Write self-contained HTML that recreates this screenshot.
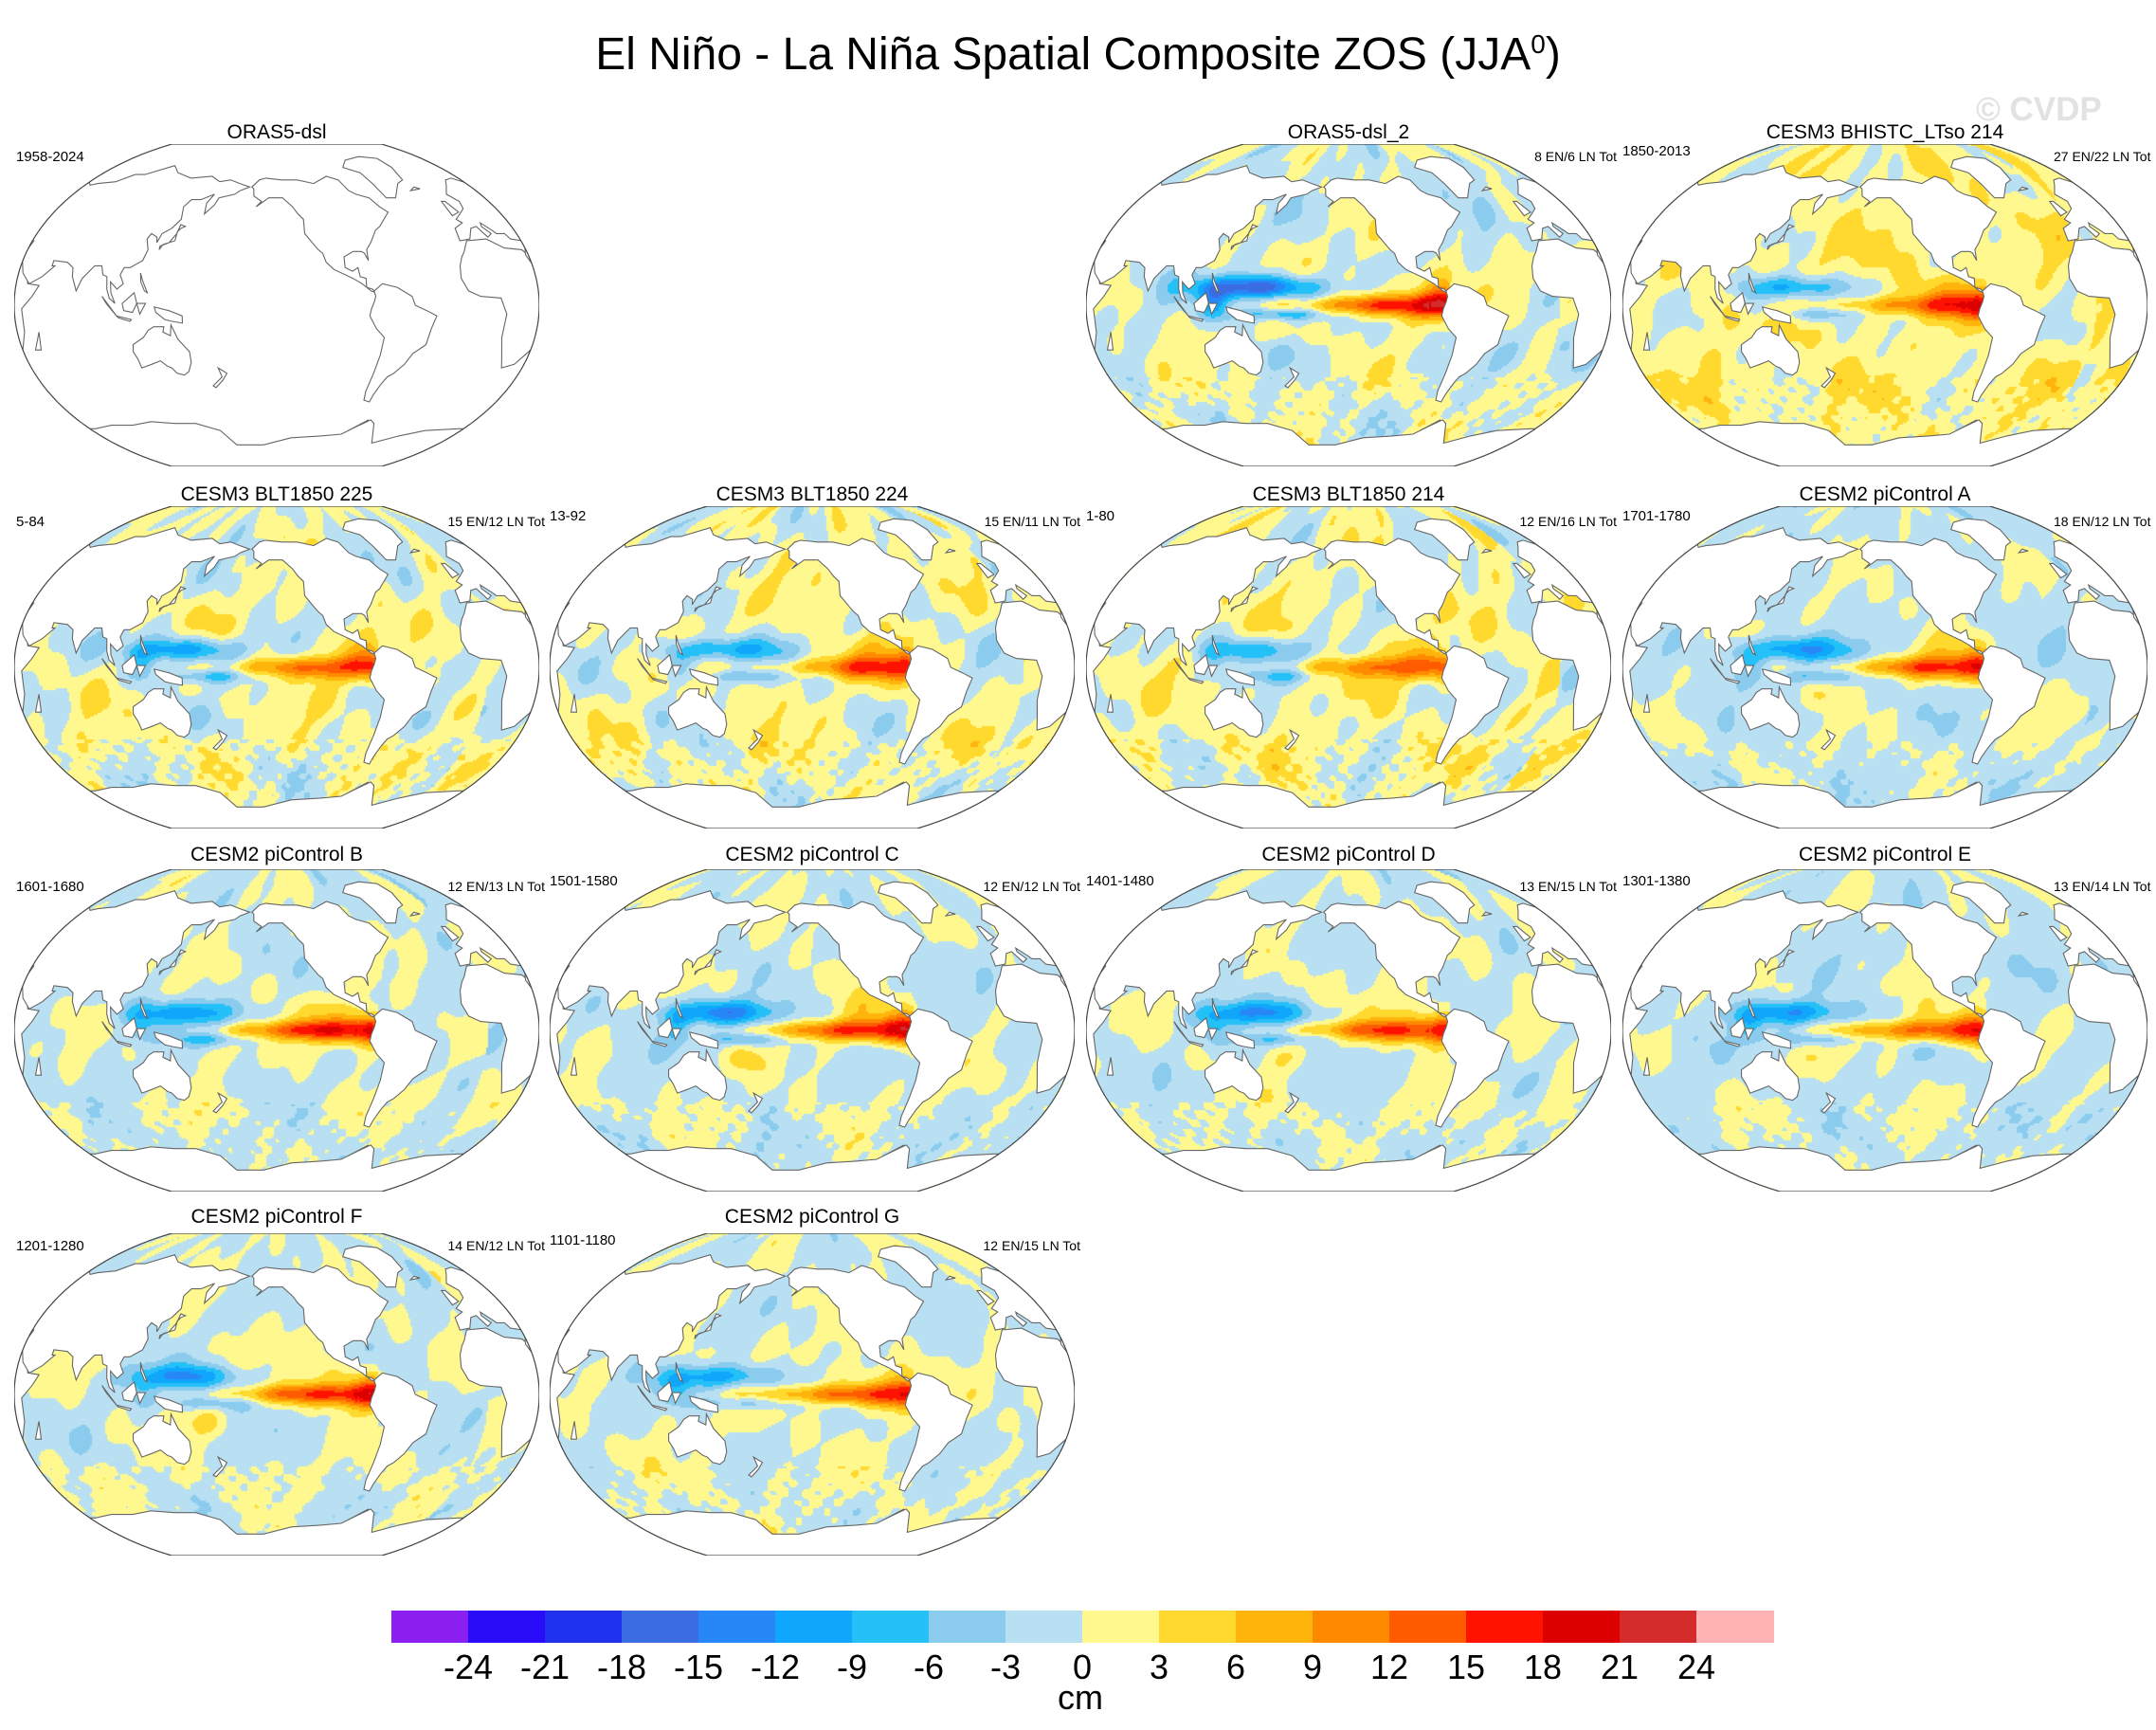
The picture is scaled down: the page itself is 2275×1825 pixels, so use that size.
<!DOCTYPE html>
<html><head><meta charset="utf-8">
<style>
body{margin:0;background:#fff;width:2275px;height:1825px;position:relative;overflow:hidden;font-family:"Liberation Sans",sans-serif;}
.t{position:absolute;white-space:nowrap;color:#000;}
.panel{position:absolute;width:554px;height:340px;}
.panel canvas,.panel svg{position:absolute;left:0;top:0;}
.ptitle{position:absolute;font-size:21px;transform:translateX(-50%);white-space:nowrap;}
.lbl{position:absolute;font-size:15px;white-space:nowrap;}
.rlbl{position:absolute;font-size:14px;white-space:nowrap;}
</style></head>
<body>
<div class="t" style="left:0;width:2275px;text-align:center;top:30px;font-size:48px;">El Niño - La Niña Spatial Composite ZOS (JJA<sup style="font-size:28px">0</sup>)</div>
<div class="t" style="left:2085px;top:96px;font-size:35px;font-weight:bold;color:#e2e2e2;">© CVDP</div>
<div id="panels"></div>
<div id="cbar" style="position:absolute;left:413px;top:1699px;width:1458px;height:34px;"></div>
<div id="cbticks"></div>
<div class="t" style="left:1090px;width:100px;text-align:center;top:1770px;font-size:36px;">cm</div>
<script>
// ---- data ----
const panelTitles=["ORAS5-dsl","","ORAS5-dsl_2","CESM3 BHISTC_LTso 214","CESM3 BLT1850 225","CESM3 BLT1850 224","CESM3 BLT1850 214","CESM2 piControl A","CESM2 piControl B","CESM2 piControl C","CESM2 piControl D","CESM2 piControl E","CESM2 piControl F","CESM2 piControl G"];
const yearLabels=["1958-2024","","1850-2013","1850-2013","5-84","13-92","1-80","1701-1780","1601-1680","1501-1580","1401-1480","1301-1380","1201-1280","1101-1180"];
const enlnLabels=["","","8 EN/6 LN Tot","27 EN/22 LN Tot","15 EN/12 LN Tot","15 EN/11 LN Tot","12 EN/16 LN Tot","18 EN/12 LN Tot","12 EN/13 LN Tot","12 EN/12 LN Tot","13 EN/15 LN Tot","13 EN/14 LN Tot","14 EN/12 LN Tot","12 EN/15 LN Tot"];
// anomaly amplitudes (cm)
const ninoAmp=[0,0,19,13,14,13,12,16,18,18,16,16,17,16];
const poolAmp=[0,0,-19,-11,-12,-11,-9,-11,-10,-13,-11,-11,-11,-11];
const bgBias=[0,0,-0.3,1.6,0.2,0.4,0.6,-0.9,-0.6,-0.6,-0.5,-0.9,-0.4,-0.3];
const noiseAmp=[0,0,2.6,2.4,2.8,2.8,2.8,2.0,2.0,2.0,2.0,2.0,2.0,2.0];
const levels=[-24,-21,-18,-15,-12,-9,-6,-3,0,3,6,9,12,15,18,21,24];
const colors=["#8a1ff0","#2a0cf9","#1f33ee","#3c6ce2","#2787f7","#10a6fb","#24c0f8","#8acbee","#b8e0f2","#fff88f","#ffd92e","#ffb40c","#ff8a00","#ff5b00","#ff1300","#dd0000","#d42b2b","#ffb3b3"];
// ---- layout ----
const colX=[15,580,1146,1712], rowY=[152,534,917,1301], titleY=[128,510,890,1272], lblY=[157,542,927,1306];
const W=554,H=340,cx=277,cy=170,rx=277,ry=170,LON0=215;
function fl(lat){const a=lat/90;return Math.sqrt(1-0.84*a*a);}
function proj(lon,lat){return [cx+(lon-LON0)/180*rx*fl(lat), cy-lat/90*ry];}
const land=[
[[-168,66],[-162,70],[-156,71],[-140,70],[-125,70],[-110,68],[-95,72],[-85,70],[-80,64],[-75,62],[-65,60],[-60,55],[-55,52],[-66,44],[-70,42],[-76,35],[-80,31],[-80,25],[-82,29],[-84,30],[-90,30],[-97,27],[-97,21],[-92,19],[-88,21],[-87,16],[-83,15],[-83,10],[-79,9],[-77,7],[-80,8],[-86,12],[-92,15],[-105,20],[-110,24],[-112,29],[-115,31],[-118,34],[-124,40],[-124,48],[-128,51],[-132,55],[-140,60],[-152,60],[-158,57],[-162,55],[-158,58],[-165,61],[-166,65]],
[[-50,60],[-42,60],[-30,68],[-22,70],[-18,77],[-20,82],[-40,83],[-62,81],[-72,77],[-58,74],[-54,68]],
[[-80,-90],[-62,-90],[-62,-64],[-75,-70]],
[[-78,8],[-72,12],[-62,10],[-52,5],[-50,0],[-42,-3],[-35,-6],[-38,-13],[-40,-22],[-48,-27],[-52,-33],[-58,-38],[-62,-40],[-65,-44],[-68,-50],[-69,-54],[-74,-53],[-75,-48],[-73,-38],[-71,-28],[-70,-18],[-76,-13],[-81,-6],[-80,-2],[-78,2],[-77,5]],
[[-17,15],[-16,22],[-13,27],[-10,30],[-5,36],[10,37],[20,32],[32,31],[35,28],[43,12],[51,11],[47,5],[40,-2],[40,-15],[35,-25],[28,-33],[20,-35],[17,-30],[12,-18],[13,-5],[9,4],[-5,5],[-13,8]],
[[-10,36],[-9,43],[-1,46],[-4,48],[2,51],[8,54],[10,58],[5,62],[14,67],[20,70],[28,71],[40,67],[45,68],[60,69],[70,73],[80,73],[100,78],[112,74],[130,71],[150,72],[160,69],[170,70],[180,68],[190,66],[182,64],[178,62],[165,60],[163,56],[157,51],[156,57],[160,62],[150,59],[142,59],[138,55],[140,48],[135,43],[129,40],[127,35],[126,38],[121,40],[119,37],[122,31],[120,25],[112,21],[108,21],[106,17],[109,12],[105,9],[100,13],[101,7],[104,1],[100,4],[98,9],[97,16],[94,17],[92,22],[87,22],[80,15],[77,8],[73,16],[72,21],[67,24],[57,25],[57,22],[59,22],[52,16],[44,12],[38,18],[33,28],[35,32],[36,36],[28,37],[26,40],[20,40],[18,42],[13,46],[12,44],[16,40],[12,38],[8,44],[3,43],[-2,37]],
[[114,-22],[122,-18],[126,-14],[130,-12],[137,-12],[136,-15],[141,-17],[142,-11],[146,-19],[153,-26],[153,-32],[150,-37],[146,-39],[141,-38],[138,-35],[135,-34],[131,-31],[124,-33],[116,-35],[115,-30],[113,-26]],
[[20,-69],[40,-69],[60,-67],[80,-67],[100,-65],[120,-66],[140,-66],[160,-70],[170,-78],[200,-78],[230,-74],[260,-73],[280,-72],[290,-68],[300,-64],[305,-66],[320,-77],[340,-73],[360,-70],[390,-69],[410,-69],[410,-90],[20,-90]],
[[131,-1],[141,-3],[150,-6],[150,-10],[143,-9],[138,-8],[132,-4]],
[[95,5],[105,-6],[102,-3],[98,1]],[[109,1],[117,7],[119,1],[116,-4],[110,-3]],[[119,1],[125,1],[121,-5]],
[[120,18],[122,14],[126,7],[124,8],[121,13]],
[[130,31],[132,34],[140,36],[140,41],[142,43],[145,44],[141,45],[140,40],[136,35],[130,33]],
[[105,-6],[115,-8],[114,-9],[106,-7]],
[[172,-35],[178,-38],[174,-42],[168,-46],[166,-45],[174,-40]],
[[-5,50],[2,52],[-2,58],[-5,58]],[[44,-25],[50,-15],[48,-25]],[[-24,64],[-14,65],[-18,66]]
];
function gauss(x,m,s){const z=(x-m)/s;return Math.exp(-z*z);}
function field(i,lon,lat){
 const A=ninoAmp[i],B=poolAmp[i];
 let L=((lon%360)+360)%360;
 const s=3.2+Math.max(0,(L-160))/28;
 const prof=L>285?0:(L<255?gauss(L,255,60):(L<270?1:0.9));
 const pac=L<285?1:0;
 let v=A*gauss(lat,0,s)*prof*(L>120?1:0)
   +0.3*A*gauss(L,278,10)*gauss(lat,2,12)*pac
   +0.22*A*gauss(lat,12,8)*gauss(L,255,25)
   +0.18*A*gauss(lat,-16,7)*gauss(L,168,14)
   +B*(gauss(lat,10,6.5)*gauss(L,152,38)+0.5*gauss(lat,-5,3.5)*gauss(L,168,28)+0.45*gauss(lat,2,10)*gauss(L,122,10));
 const p=i*1.7;
 let n=Math.sin(L*0.045+p)*Math.cos(lat*0.075+p*0.7)
   +0.6*Math.sin(L*0.1+lat*0.04+p*1.3)*Math.cos(lat*0.12-L*0.02+p)
   +0.35*Math.sin(L*0.19-lat*0.15+p*2.1);
 if(lat<-40) n+=0.5*Math.sin(L*0.35+p)*Math.sin(lat*0.6+p);
 n+=0.35*gauss(lat,30,12)*gauss(L,200,45)+0.3*gauss(lat,-45,10);
 return v+bgBias[i]+noiseAmp[i]*n;
}
function colorFor(v){let k=0;while(k<levels.length&&v>=levels[k])k++;return colors[k];}
function polyPath(pts,shift){return pts.map((p,j)=>{const q=proj(p[0]+shift,p[1]);return (j?'L':'M')+q[0].toFixed(1)+' '+q[1].toFixed(1);}).join('')+'Z';}
function outlinePath(){let s='';for(let lat=90;lat>=-90;lat-=2){const q=proj(LON0+180,lat);s+=(s?'L':'M')+q[0].toFixed(1)+' '+q[1].toFixed(1);}for(let lat=-90;lat<=90;lat+=2){const q=proj(LON0-180,lat);s+='L'+q[0].toFixed(1)+' '+q[1].toFixed(1);}return s+'Z';}
const NS='http://www.w3.org/2000/svg';
const root=document.getElementById('panels');
const outline=outlinePath();
for(let i=0;i<panelTitles.length;i++){
 if(i===1)continue;
 const r=Math.floor(i/4),c=i%4,x0=colX[c],y0=rowY[r];
 const pd=document.createElement('div');pd.className='panel';pd.style.left=x0+'px';pd.style.top=y0+'px';
 
 
 root.appendChild(pd);
 if(ninoAmp[i]!==0){
  const cv=document.createElement('canvas');cv.width=W;cv.height=H;
  
  
  pd.appendChild(cv);const g=cv.getContext('2d');
  const st=2;
  for(let py=0;py<H;py+=st){const lat=(cy-(py+1))/ry*90;const f=fl(lat);
   for(let px=0;px<W;px+=st){const d=((px+1)-cx)/(rx*f)*180;if(Math.abs(d)>180)continue;
    g.fillStyle=colorFor(field(i,LON0+d,lat));g.fillRect(px,py,st,st);}}
 }
 const svg=document.createElementNS(NS,'svg');svg.setAttribute('width',W);svg.setAttribute('height',H);
 
 
 const cp=document.createElementNS(NS,'clipPath');cp.setAttribute('id','clip'+i);
 const cpp=document.createElementNS(NS,'path');cpp.setAttribute('d',outline);cp.appendChild(cpp);svg.appendChild(cp);
 const gl=document.createElementNS(NS,'g');gl.setAttribute('clip-path','url(#clip'+i+')');
 land.forEach((poly,pi)=>{const shifts=(pi===7)?[0]:[-360,0,360];for(const sh of shifts){
  const p=document.createElementNS(NS,'path');p.setAttribute('d',polyPath(poly,sh));
  p.setAttribute('fill','#fff');p.setAttribute('stroke','#666');p.setAttribute('stroke-width','1.1');
  
  
  gl.appendChild(p);}});
 svg.appendChild(gl);
 const ol=document.createElementNS(NS,'path');ol.setAttribute('d',outline);ol.setAttribute('fill','none');ol.setAttribute('stroke','#444');ol.setAttribute('stroke-width','1.2');
 
 
 svg.appendChild(ol);pd.appendChild(svg);
 const t=document.createElement('div');t.className='ptitle';t.textContent=panelTitles[i];t.style.left=(x0+277)+'px';t.style.top=titleY[r]+'px';
 
 
 document.body.appendChild(t);
 if(yearLabels[i]&&!(r===0&&c===2)){
  const l=document.createElement('div');l.className='lbl';l.textContent=yearLabels[i];
  l.style.left=(c===0?17:x0)+'px';l.style.top=(lblY[r]-(c===0?0:6))+'px';
  
  
  document.body.appendChild(l);}
 if(enlnLabels[i]){const l=document.createElement('div');l.className='rlbl';l.textContent=enlnLabels[i];
  l.style.left=(c<3?(x0+560):(x0+455))+'px';l.style.transform=c<3?'translateX(-100%)':'none';l.style.top=lblY[r]+'px';
  
  
  document.body.appendChild(l);}
}
// colorbar
const cb=document.getElementById('cbar');const bw=1458/colors.length;
colors.forEach((col,k)=>{const b=document.createElement('div');b.style.cssText='position:absolute;top:0;height:34px;left:'+(k*bw)+'px;width:'+(bw+0.5)+'px;background:'+col;
 
 
 cb.appendChild(b);});
const ct=document.getElementById('cbticks');
levels.forEach((lv,k)=>{const d=document.createElement('div');d.className='t';d.textContent=lv;d.style.cssText='left:'+(413+(k+1)*bw-50)+'px;width:100px;text-align:center;top:1738px;font-size:36px;';
 
 
 ct.appendChild(d);});
</script>
</body></html>
